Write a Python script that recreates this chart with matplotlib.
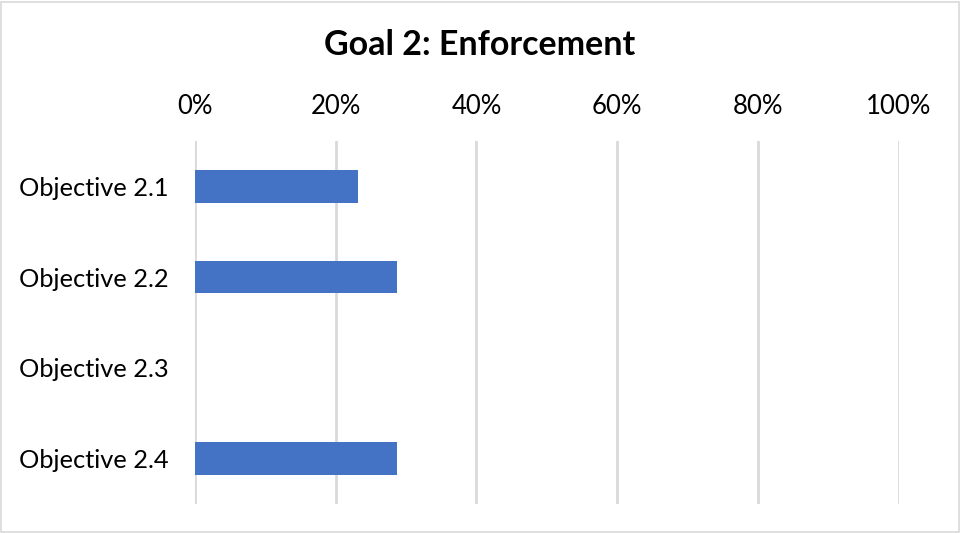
import matplotlib.pyplot as plt
import matplotlib

matplotlib.rcParams['font.family'] = ['Lato', 'DejaVu Sans']

# 資料
objectives = ['Objective 2.1', 'Objective 2.2', 'Objective 2.3', 'Objective 2.4']
completion = [0.232, 0.287, 0.0, 0.287]
ticks = [0, 0.2, 0.4, 0.6, 0.8, 1.0]
tick_labels = ['0%', '20%', '40%', '60%', '80%', '100%']

fig = plt.figure(figsize=(9.6, 5.33), dpi=100)
ax = fig.add_axes([0.2031, 0.0544, 0.7329, 0.6811])

ax.barh(objectives, completion, height=0.36, color='#4472C4', zorder=3)
ax.set_ylim(3.5, -0.5)
ax.set_xlim(0, 1.0)

ax.set_xticks(ticks)
ax.set_xticklabels(tick_labels, fontsize=18.5)
ax.xaxis.tick_top()
ax.tick_params(axis='x', length=0, pad=16)
ax.tick_params(axis='y', length=0, pad=19, labelsize=18.3)

ax.xaxis.grid(True, color='#D9D9D9', linewidth=2)
ax.set_axisbelow(True)
for s in ax.spines.values():
    s.set_visible(False)

fig.text(0.5, 0.915, 'Goal 2: Enforcement', ha='center', va='center',
         fontsize=24.5, fontweight='bold')

# 外框
fig.patches.append(plt.Rectangle((0.001, 0.002), 0.998, 0.994, transform=fig.transFigure,
                                 fill=False, edgecolor='#D9D9D9', linewidth=1.2))

plt.savefig('out.png', dpi=100, facecolor='white')
plt.close()
